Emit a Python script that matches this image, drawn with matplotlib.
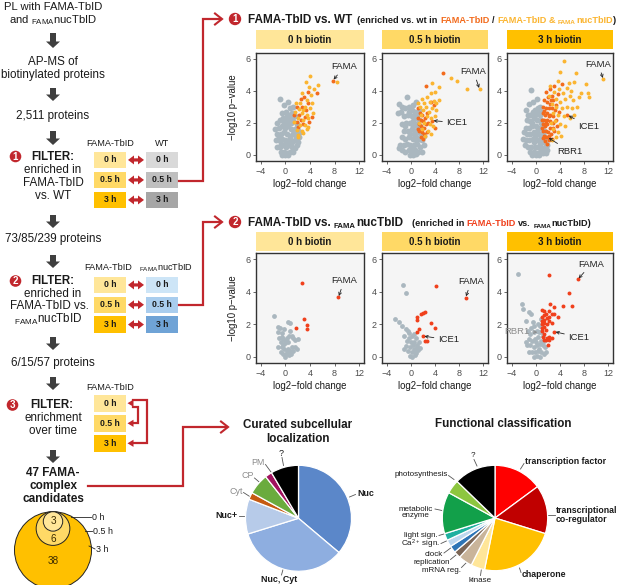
import matplotlib
matplotlib.use('Agg')
import matplotlib.pyplot as plt
from matplotlib.patches import Rectangle, Circle, Polygon, FancyArrow

plt.rcParams['font.family'] = ['Liberation Sans', 'DejaVu Sans']
plt.rcParams['mathtext.fontset'] = 'custom'
plt.rcParams['mathtext.rm'] = 'Liberation Sans'
plt.rcParams['mathtext.bf'] = 'Liberation Sans:bold'
plt.rcParams['mathtext.it'] = 'Liberation Sans:italic'

# ---------------- data ----------------
time_labels = ['0 h', '0.5 h', '3 h']
strip_labels = ['0 h biotin', '0.5 h biotin', '3 h biotin']
step_counts = ['2,511 proteins', '73/85/239 proteins', '6/15/57 proteins']
venn_labels = ['0 h', '0.5 h', '3 h']
venn_counts = [3, 6, 38]

# FAMA-TbID vs. WT, 0 h
wt_gray_0h = [(-0.9, 3.5), (-0.3, 3.1), (0.4, 3.3), (0.8, 2.9), (1.2, 3.0), (0.1, 2.7), (-0.6, 2.6), (0.6, 2.5),
              (1.1, 2.6), (1.5, 2.4), (-1.7, 1.6), (-1.3, 2.0), (-0.9, 2.2), (-0.4, 2.3), (0.2, 2.1), (0.7, 2.2),
              (1.3, 2.1), (1.8, 1.9), (-1.1, 1.7), (-0.6, 1.8), (-0.1, 1.7), (0.4, 1.8), (0.9, 1.6), (1.5, 1.6),
              (2.0, 1.5), (-1.3, 1.3), (-0.8, 1.3), (-0.3, 1.4), (0.2, 1.3), (0.7, 1.2), (1.2, 1.3), (1.7, 1.2),
              (2.2, 1.1), (-1.5, 0.9), (-1.0, 0.9), (-0.5, 1.0), (0.0, 0.9), (0.5, 0.9), (1.0, 0.8), (1.5, 0.9),
              (2.0, 0.8), (-1.4, 0.5), (-0.9, 0.5), (-0.4, 0.6), (0.1, 0.5), (0.6, 0.6), (1.1, 0.5), (1.6, 0.4),
              (-0.8, 0.2), (-0.3, 0.2), (0.2, 0.1), (0.7, 0.2), (1.2, 0.2), (0.0, 0.0), (0.4, 0.0), (-0.5, 0.0),
              (1.8, 0.6), (-1.1, 1.1), (0.3, 2.4), (0.9, 2.0), (-0.2, 2.0), (1.4, 1.4), (0.8, 1.0), (-0.7, 0.7),
              (0.3, 0.7), (1.9, 1.7), (2.3, 1.4), (1.0, 2.3)]
wt_only_0h = [(3.73, 3.90), (3.07, 3.63), (2.53, 3.47), (5.09, 3.88), (1.82, 3.01), (2.64, 3.01), (1.44, 2.49),
              (2.20, 2.49), (3.18, 2.39), (1.82, 2.07), (2.91, 1.93), (3.84, 2.07), (2.09, 1.76), (3.29, 2.80),
              (4.38, 2.39), (3.73, 3.22), (2.53, 2.18), (7.70, 4.63)]
wt_both_0h = [(4.00, 4.92), (3.29, 4.53), (5.36, 4.34), (3.84, 4.26), (4.65, 4.09), (2.64, 3.84), (1.66, 3.26),
              (2.37, 3.22), (3.46, 3.43), (4.27, 3.22), (3.18, 3.01), (4.00, 2.91), (1.55, 2.70), (2.64, 2.59),
              (3.46, 2.49), (1.99, 2.28), (2.91, 2.18), (3.73, 2.28), (2.37, 1.87), (3.18, 1.87), (1.82, 1.56),
              (2.64, 1.51), (2.09, 1.24), (2.91, 1.35), (1.44, 2.07), (3.73, 1.76), (4.54, 2.59), (4.16, 3.74),
              (2.91, 2.80), (2.20, 2.84), (3.46, 1.60), (1.99, 1.10), (8.41, 4.57)]

# FAMA-TbID vs. WT, 0.5 h
wt_gray_05h = [(-0.6, 3.6), (-1.9, 3.2), (-1.4, 3.0), (-0.9, 2.9), (-0.3, 3.0), (0.4, 3.1), (0.9, 3.3), (0.6, 2.7),
               (-0.5, 2.5), (-1.2, 2.4), (0.1, 2.4), (1.0, 2.5), (1.4, 2.2), (-0.8, 2.0), (-0.2, 2.0), (0.4, 2.1),
               (0.9, 1.9), (1.5, 1.8), (-1.5, 1.9), (-1.1, 1.5), (-0.5, 1.5), (0.1, 1.6), (0.6, 1.5), (1.1, 1.4),
               (1.7, 1.3), (-1.4, 1.1), (-0.9, 1.0), (-0.3, 1.1), (0.3, 1.0), (0.8, 1.1), (1.3, 1.0), (1.9, 0.9),
               (-1.8, 0.6), (-1.2, 0.6), (-0.7, 0.7), (-0.1, 0.6), (0.5, 0.6), (1.0, 0.7), (1.5, 0.5), (2.1, 0.6),
               (-1.5, 0.3), (-0.9, 0.2), (-0.4, 0.3), (0.2, 0.2), (0.7, 0.3), (1.2, 0.2), (-0.2, 0.0), (0.4, 0.0),
               (0.9, 0.05), (-1.9, 0.4), (0.2, 2.8), (0.7, 2.3), (1.2, 1.7), (-0.1, 1.3), (0.5, 1.3), (0.0, 0.35),
               (1.6, 1.0), (2.2, 1.2), (-0.4, 2.7), (1.3, 2.8), (-2.2, 2.6), (-1.7, 2.7), (-1.0, 1.8), (0.3, 1.8),
               (0.9, 0.9), (1.8, 0.2)]
wt_only_05h = [(5.27, 5.13), (2.45, 4.32), (3.37, 3.32), (3.53, 2.14), (4.08, 1.66), (1.2, 2.9), (1.5, 2.6),
               (1.9, 2.5), (1.2, 2.3), (1.6, 2.2), (2.0, 2.1), (2.4, 2.3), (1.3, 1.9), (1.7, 1.8), (2.1, 1.7),
               (2.5, 1.9), (1.4, 1.5), (1.8, 1.4), (2.2, 1.3), (1.6, 1.1), (2.0, 1.0), (2.7, 2.6), (2.9, 2.0),
               (1.1, 1.6), (2.6, 1.4), (3.8, 3.1)]
wt_both_05h = [(11.4, 4.09), (7.71, 4.61), (9.34, 4.11), (6.63, 4.77), (3.53, 4.46), (4.62, 4.21), (4.08, 3.94),
               (3.26, 3.88), (2.72, 3.63), (1.91, 3.47), (1.2, 3.22), (2.18, 3.22), (3.15, 3.32), (3.91, 3.38),
               (4.62, 3.43), (4.24, 3.22), (1.5, 3.0), (2.5, 3.0), (3.5, 2.9), (2.0, 2.8), (3.0, 2.7), (4.2, 2.8),
               (1.6, 2.5), (2.6, 2.4), (3.4, 2.3), (2.2, 2.0), (3.1, 1.9), (1.8, 1.6), (2.8, 1.5), (2.4, 1.2),
               (3.3, 1.3), (4.0, 2.4), (1.4, 2.0), (3.7, 1.8)]

# FAMA-TbID vs. WT, 3 h
wt_gray_3h = [(-0.8, 4.05), (-1.6, 2.8), (-1.2, 3.2), (-0.5, 3.3), (0.2, 3.5), (0.6, 3.0), (-0.2, 2.8), (-0.9, 2.5),
              (0.4, 2.6), (1.0, 2.7), (-1.5, 2.2), (-1.0, 2.1), (-0.4, 2.3), (0.2, 2.2), (0.8, 2.2), (-1.7, 1.7),
              (-1.2, 1.7), (-0.6, 1.8), (0.0, 1.8), (0.6, 1.7), (1.1, 1.8), (-1.4, 1.3), (-0.9, 1.3), (-0.3, 1.4),
              (0.3, 1.3), (0.9, 1.3), (1.3, 1.2), (-1.6, 0.9), (-1.1, 0.9), (-0.5, 1.0), (0.1, 0.9), (0.7, 0.9),
              (1.2, 0.8), (1.6, 0.7), (-1.3, 0.5), (-0.8, 0.5), (-0.2, 0.5), (0.4, 0.5), (1.0, 0.4), (1.5, 0.4),
              (-0.9, 0.2), (-0.4, 0.15), (0.2, 0.1), (0.7, 0.15), (1.2, 0.1), (0.0, 0.0), (0.5, 0.0), (-0.6, 0.0),
              (1.8, 0.3), (1.9, 0.6), (-1.9, 1.4), (-2.1, 1.0), (0.3, 2.9), (-0.1, 2.5), (0.7, 2.5), (-0.7, 2.0),
              (0.4, 1.6), (0.9, 1.1), (-0.1, 1.2), (0.6, 0.7), (-1.3, 2.5), (-0.3, 0.8), (1.3, 1.5), (1.5, 1.0),
              (-1.8, 0.6), (-0.5, 2.7), (0.9, 2.0), (1.7, 0.1)]
wt_only_3h = [(5.24, 2.49), (1.94, 1.10), (2.3, 4.1), (3.0, 4.3), (1.6, 3.9), (2.0, 3.6), (2.6, 3.7), (1.3, 3.4),
              (1.8, 3.3), (2.3, 3.2), (2.9, 3.4), (1.2, 3.0), (1.6, 2.9), (2.1, 2.9), (2.6, 2.9), (3.1, 2.8),
              (1.1, 2.6), (1.5, 2.5), (1.9, 2.6), (2.4, 2.5), (2.9, 2.4), (1.0, 2.2), (1.4, 2.2), (1.8, 2.2),
              (2.3, 2.1), (2.8, 2.0), (1.1, 1.9), (1.5, 1.8), (1.9, 1.9), (2.4, 1.7), (1.2, 1.5), (1.6, 1.5),
              (2.0, 1.4), (2.5, 1.3), (1.3, 1.2), (1.7, 1.1), (2.2, 0.9), (1.5, 0.85), (1.9, 0.7), (3.3, 2.2),
              (3.5, 1.8), (3.0, 1.5), (2.7, 1.0), (1.0, 1.7), (1.2, 1.05), (3.4, 3.1), (2.1, 2.4), (1.7, 2.0),
              (1.35, 2.75), (2.5, 3.4), (3.6, 3.8), (4.3, 4.4), (3.9, 2.7), (2.8, 1.7), (2.1, 1.2)]
wt_both_3h = [(11.18, 4.71), (4.69, 5.85), (4.03, 5.19), (6.72, 5.09), (8.37, 4.40), (8.70, 3.88), (8.81, 3.63),
              (7.55, 3.84), (6.34, 4.57), (5.51, 4.46), (5.24, 4.15), (4.42, 3.84), (3.87, 4.09), (2.4, 4.3),
              (3.0, 3.9), (3.4, 3.5), (4.0, 3.3), (4.8, 3.5), (5.6, 3.7), (6.2, 3.4), (2.6, 3.2), (3.3, 3.0),
              (4.4, 2.9), (5.2, 3.0), (6.0, 2.9), (2.8, 2.6), (3.6, 2.5), (4.6, 2.4), (5.6, 2.3), (6.4, 2.5),
              (3.1, 2.1), (4.0, 1.9), (4.9, 1.8), (2.9, 1.6), (3.7, 1.4), (3.3, 1.1), (2.6, 0.9), (6.8, 3.0),
              (7.2, 3.6), (2.2, 3.7), (3.6, 4.6), (5.9, 4.0), (2.5, 2.0), (4.2, 1.2)]

# FAMA-TbID vs. FAMAnucTbID
nuc_gray_0h = [(-1.82, 2.52), (-1.28, 1.86), (-0.90, 1.78), (-1.17, 1.51), (-0.63, 1.45), (-0.19, 1.71),
               (0.46, 2.17), (0.79, 2.07), (0.73, 1.61), (-0.63, 1.24), (-1.06, 1.16), (-0.35, 1.09), (0.19, 1.16),
               (1.01, 1.30), (1.28, 1.16), (-0.74, 0.89), (-0.08, 0.82), (0.46, 0.89), (1.55, 1.03), (2.09, 1.09),
               (-1.28, 0.62), (-0.52, 0.58), (-0.19, 0.45), (0.19, 0.37), (0.46, 0.51), (1.01, 0.58), (1.55, 0.62),
               (1.82, 0.47), (-0.74, 0.27), (-0.35, 0.20), (0.03, 0.16), (0.35, 0.27), (0.73, 0.37), (1.28, 0.33),
               (-0.08, 0.00), (0.55, 0.10), (0.90, 0.20), (-0.45, 0.70), (0.10, 1.00), (0.60, 1.25)]
nuc_red_0h = [(2.64, 4.57), (8.63, 3.66), (2.97, 2.31), (1.71, 1.78), (3.56, 1.98), (3.51, 1.71)]

nuc_gray_05h = [(-1.35, 4.41), (-0.81, 3.95), (-2.71, 2.34), (-2.00, 2.17), (-1.51, 1.92), (-0.81, 1.71),
                (-0.54, 1.57), (-1.08, 1.30), (-0.27, 1.16), (-0.65, 0.99), (0.00, 0.89), (0.28, 0.74), (0.55, 0.89),
                (0.82, 1.16), (0.55, 1.40), (-0.10, 0.58), (0.44, 0.47), (0.98, 0.58), (-0.43, 0.33), (0.12, 0.27),
                (0.66, 0.37), (1.20, 0.41), (-0.21, 0.06), (0.22, 0.00), (1.09, 0.74), (-0.81, 0.68), (-0.30, 1.45),
                (0.20, 1.30), (0.90, 0.25), (1.50, 0.55), (-1.20, 0.50), (0.70, 0.10), (1.35, 0.90)]
nuc_red_05h = [(4.24, 4.34), (9.07, 3.64), (1.63, 2.61), (2.07, 2.69), (2.34, 2.73), (0.98, 2.44), (1.09, 2.27),
               (3.26, 2.07), (4.08, 1.78), (1.36, 1.71), (1.09, 1.55), (2.01, 1.28), (2.34, 0.99), (2.72, 0.99)]

nuc_gray_3h = [(-2.90, 5.09), (-2.29, 3.27), (-2.07, 2.96), (-1.08, 2.75), (-0.81, 2.65), (-1.63, 2.23),
               (-0.53, 2.13), (-0.26, 1.92), (0.46, 1.51), (-1.3, 1.6), (-0.9, 1.4), (-0.4, 1.5), (0.1, 1.6),
               (0.7, 1.9), (0.9, 1.5), (-1.1, 1.1), (-0.6, 1.0), (-0.1, 1.1), (0.4, 1.2), (0.9, 1.0), (1.2, 1.3),
               (-1.4, 0.7), (-0.9, 0.7), (-0.4, 0.6), (0.1, 0.7), (0.6, 0.8), (1.1, 0.7), (1.5, 0.6), (-1.1, 0.3),
               (-0.6, 0.3), (-0.1, 0.3), (0.4, 0.35), (0.9, 0.3), (1.3, 0.2), (-0.3, 0.0), (0.2, 0.05), (0.7, 0.0),
               (0.3, 2.0), (0.8, 2.3), (-0.8, 1.8), (0.0, 0.9), (0.5, 0.5), (1.4, 1.0), (1.7, 0.3), (-1.7, 0.9)]
nuc_red_3h = [(6.94, 4.76), (2.22, 5.03), (5.52, 3.93), (6.06, 3.10), (4.58, 3.10), (2.33, 3.27), (1.05, 2.88),
              (1.42, 2.80), (1.75, 2.62), (0.98, 2.47), (1.36, 2.60), (2.25, 2.82), (2.62, 2.61), (1.04, 2.20),
              (1.41, 2.26), (1.80, 2.41), (2.19, 2.47), (3.08, 2.62), (0.99, 2.00), (1.36, 2.05), (1.81, 2.00),
              (2.25, 2.19), (1.03, 1.79), (1.42, 1.85), (1.75, 1.63), (2.62, 2.06), (0.98, 1.58), (1.36, 1.43),
              (1.81, 1.18), (2.19, 1.22), (1.42, 1.05), (1.75, 1.01), (2.25, 1.06), (3.04, 1.55), (2.62, 1.17),
              (3.59, 2.44), (2.00, 0.75), (1.20, 1.20), (3.00, 3.05)]

# labelled proteins: (name, x, y) of the point
wt_labels_0h = [('FAMA', 7.70, 4.63)]
wt_labels_05h = [('FAMA', 11.4, 4.09), ('ICE1', 3.53, 2.14)]
wt_labels_3h = [('FAMA', 11.18, 4.71), ('ICE1', 5.24, 2.49), ('RBR1', 1.94, 1.10)]
nuc_labels_0h = [('FAMA', 8.63, 3.66)]
nuc_labels_05h = [('FAMA', 9.07, 3.64), ('ICE1', 2.01, 1.28)]
nuc_labels_3h = [('FAMA', 6.94, 4.76), ('ICE1', 3.04, 1.55), ('RBR1', 0.46, 1.51)]

loc_labels = ['Nuc', 'Nuc, Cyt', 'Nuc+', 'Cyt', 'CP', 'PM', '?']
loc_counts = [17, 16, 5, 1, 3, 1, 4]
func_labels = ['transcription factor', 'transcriptional\nco-regulator', 'chaperone', 'kinase', 'mRNA reg.',
               'replication', 'clock', 'Ca$^{2+}$ sign.', 'light sign.', 'metabolic\nenzyme', 'photosynthesis', '?']
func_counts = [7, 7, 11, 2, 2, 1, 1, 1, 1, 6, 2, 6]

# ---------------- style / layout ----------------
W, H = 617, 585
RED = '#C1272D'
TXT = '#1A1A1A'
GRAY_PT = '#AAB7BF'
OR_DARK = '#F26B1D'
OR_LIGHT = '#FBB531'
RED_PT = '#F0401C'
TIME_COLORS = ['#FFE699', '#FFD966', '#FFC000']
WT_COLORS = ['#D9D9D9', '#BFBFBF', '#A6A6A6']
NUC_COLORS = ['#CDE5F7', '#A9CDEE', '#6FA3D6']
LOC_COLORS = ['#5B87C9', '#8EAEE0', '#B7CBE9', '#C55A11', '#6AAB3E', '#A0125E', '#000000']
FUNC_COLORS = ['#FF0000', '#C00000', '#FFC000', '#FFE699', '#C9B49A', '#7B6656', '#2E75B6', '#BDD7EE',
               '#1FB0A0', '#12A04A', '#8DC63F', '#000000']
FS = 8.4   # flow chart text size

fig = plt.figure(figsize=(W / 100, H / 100), dpi=100)
ov = fig.add_axes([0, 0, 1, 1])
ov.set_xlim(0, W)
ov.set_ylim(H, 0)
ov.axis('off')


def rect_px(x0, y0, x1, y1):
    return [x0 / W, 1 - y1 / H, (x1 - x0) / W, (y1 - y0) / H]


def txt(x, y, s, size=FS, bold=False, color=TXT, ha='center', va='center'):
    ov.text(x, y, s, fontsize=size, fontweight='bold' if bold else 'normal', color=color, ha=ha, va=va)


def num_badge(x, y, n, r=5.8):
    ov.add_patch(Circle((x, y), r, color=RED, lw=0))
    ov.text(x, y + 0.3, str(n), color='white', fontsize=7, fontweight='bold', ha='center', va='center')


def seq_text(x, y, pieces):
    rend = fig.canvas.get_renderer()
    for s, size, color, dy, gap in pieces:
        t = ov.text(x, y + dy, s, fontsize=size, fontweight='bold', color=color, ha='left', va='baseline')
        x += t.get_window_extent(rend).width + gap * size * 100 / 72


def chevron(x, y, ln=7, hw=5.5):
    ov.plot([x - ln, x, x - ln], [y - hw, y, y + hw], color=RED, lw=1.5, solid_joinstyle='miter')


def double_arrow(y, x0=128, x1=144):
    m0, m1 = x0 + 6, x1 - 6
    pts = [(x0, y), (m0, y - 4.5), (m0, y - 1.6), (m1, y - 1.6), (m1, y - 4.5), (x1, y),
           (m1, y + 4.5), (m1, y + 1.6), (m0, y + 1.6), (m0, y + 4.5)]
    ov.add_patch(Polygon(pts, closed=True, color=RED, lw=0))


def left_head(x, y):
    ov.add_patch(Polygon([(x, y), (x + 6, y - 3.6), (x + 6, y + 3.6)], closed=True, color=RED, lw=0))


# ---------------- left flow chart ----------------
CX = 53
txt(CX, 7.5, 'PL with FAMA-TbID', size=8.1)
txt(CX, 20.5, 'and ${}_{\\mathrm{FAMA}}$nucTbID', size=8.1)
txt(CX, 62, 'AP-MS of')
txt(CX, 75, 'biotinylated proteins')
txt(CX, 116, step_counts[0])
txt(CX, 239, step_counts[1])
txt(CX, 363, step_counts[2])

for y0, y1 in [(33, 48), (88, 101), (131, 145), (215, 228), (255, 268), (337, 350), (377, 390), (450, 463)]:
    ov.add_patch(FancyArrow(CX, y0, 0, y1 - y0, width=6, head_width=14, head_length=6.5,
                            length_includes_head=True, color='#3F3F3F', lw=0))

num_badge(15.5, 156.5, 1)
txt(53, 156.5, 'FILTER:', size=8.3, bold=True)
txt(CX, 170, 'enriched in')
txt(CX, 183, 'FAMA-TbID')
txt(CX, 196, 'vs. WT')

num_badge(15.5, 281, 2)
txt(53, 281, 'FILTER:', size=8.3, bold=True)
txt(CX, 294, 'enriched in')
txt(49.5, 306, 'FAMA-TbID vs.')
txt(48.5, 319, '${}_{\\mathrm{FAMA}}$nucTbID')

num_badge(12.5, 405, 3)
txt(52, 405, 'FILTER:', size=8.3, bold=True)
txt(CX, 418, 'enrichment')
txt(CX, 431.5, 'over time')

txt(CX, 472.5, '47 FAMA-', size=8.5, bold=True)
txt(CX, 486, 'complex', size=8.5, bold=True)
txt(CX, 499.5, 'candidates', size=8.5, bold=True)

# filter boxes
box_rows_1 = [151.7, 171.7, 191.7]
box_rows_2 = [276.7, 296.5, 316.3]
box_rows_3 = [395.0, 415.0, 435.0]
BH = 16.5
txt(110, 144, 'FAMA-TbID', size=6.6)
txt(162, 144, 'WT', size=6.6)
txt(108, 268, 'FAMA-TbID', size=6.6)
txt(166, 267.5, '${}_{\\mathrm{FAMA}}$nucTbID', size=6.6)
txt(110, 387, 'FAMA-TbID', size=6.6)
for i, lab in enumerate(time_labels):
    for rows, right in [(box_rows_1, WT_COLORS), (box_rows_2, NUC_COLORS), (box_rows_3, None)]:
        y = rows[i]
        ov.add_patch(Rectangle((94, y), 32, BH, color=TIME_COLORS[i], lw=0))
        txt(110, y + BH / 2, lab, size=6.2, bold=True)
        if right is not None:
            ov.add_patch(Rectangle((146, y), 32.3, BH, color=right[i], lw=0))
            txt(162, y + BH / 2, lab, size=6.2, bold=True)
            double_arrow(y + BH / 2)

# filter 3 brackets
ov.plot([133, 146.7, 146.7, 133], [400, 400, 443.3, 443.3], color=RED, lw=1.6, solid_joinstyle='miter')
ov.plot([133, 137.8, 137.8, 133], [406.5, 406.5, 423.3, 423.3], color=RED, lw=1.6, solid_joinstyle='miter')
left_head(127.5, 403.2)
left_head(127.5, 423.3)
left_head(127.5, 443.3)

# connectors
ov.plot([179, 203, 203, 221], [180.5, 180.5, 19, 19], color=RED, lw=1.6, solid_joinstyle='miter')
chevron(222, 19)
ov.plot([179, 203, 203, 221], [305, 305, 222, 222], color=RED, lw=1.6, solid_joinstyle='miter')
chevron(222, 222)
ov.plot([88, 183, 183, 227], [485.5, 485.5, 427, 427], color=RED, lw=1.6, solid_joinstyle='miter')
chevron(228, 427)

# nested candidate circles (area ~ cumulative count)
total = sum(venn_counts)
R = 38.5
top = 511.7
cum = 0
radii = []
for c in venn_counts:
    cum += c
    radii.append(R * (cum / total) ** 0.5)
for r, col in zip(radii[::-1], TIME_COLORS[::-1]):
    ov.add_patch(Circle((53, top + r), r, facecolor=col, edgecolor='#222222', lw=0.7))
count_y = [top + radii[0], top + radii[0] + radii[1] + 1, 561]
for cnt, y in zip(venn_counts, count_y):
    txt(53, y, str(cnt), size=7.2, color='#3A2A00')
for lab, (x0, y0, x1, y1) in zip(venn_labels, [(71, 517, 91, 517), (85, 530.5, 92, 530.5), (89, 546, 95, 549)]):
    ov.plot([x0, x1], [y0, y1], color='#222222', lw=0.6)
    txt(x1 + 1, y1 + 0.5, lab, size=6.4, ha='left')

# ---------------- volcano panels ----------------
PANEL_X = [(256, 364), (382, 488), (507, 613)]
ROWS = [dict(strip=(30, 49.3), axes=(52.7, 161.3)), dict(strip=(231.7, 251), axes=(253.3, 363.3))]

top_panels = [
    (wt_gray_0h, [(wt_only_0h, OR_DARK), (wt_both_0h, OR_LIGHT)], wt_labels_0h,
     {'FAMA': (9.6, 5.5, 'center')}),
    (wt_gray_05h, [(wt_only_05h, OR_DARK), (wt_both_05h, OR_LIGHT)], wt_labels_05h,
     {'FAMA': (10.4, 5.2, 'center'), 'ICE1': (5.9, 2.0, 'left')}),
    (wt_gray_3h, [(wt_only_3h, OR_DARK), (wt_both_3h, OR_LIGHT)], wt_labels_3h,
     {'FAMA': (10.4, 5.65, 'center'), 'ICE1': (7.0, 1.76, 'left'), 'RBR1': (3.6, 0.21, 'left')}),
]
bottom_panels = [
    (nuc_gray_0h, [(nuc_red_0h, RED_PT)], nuc_labels_0h, {'FAMA': (9.55, 4.68, 'center')}),
    (nuc_gray_05h, [(nuc_red_05h, RED_PT)], nuc_labels_05h,
     {'FAMA': (10.0, 4.62, 'center'), 'ICE1': (4.5, 1.04, 'left')}),
    (nuc_gray_3h, [(nuc_red_3h, RED_PT)], nuc_labels_3h,
     {'FAMA': (9.2, 5.7, 'center'), 'ICE1': (5.4, 1.2, 'left'), 'RBR1': (-1.1, 1.55, 'right')}),
]


def draw_volcano(col, row, gray, layers, labels, label_pos):
    x0, x1 = PANEL_X[col]
    sy0, sy1 = ROWS[row]['strip']
    ay0, ay1 = ROWS[row]['axes']
    ov.add_patch(Rectangle((x0, sy0), x1 - x0, sy1 - sy0, color=TIME_COLORS[col], lw=0))
    txt((x0 + x1) / 2, (sy0 + sy1) / 2 + 0.5, strip_labels[col], size=7, bold=True)
    ax = fig.add_axes(rect_px(x0, ay0, x1, ay1))
    ax.set_facecolor('#F5F5F5')
    gs = 18 if row == 0 else 12
    ax.scatter([p[0] for p in gray], [p[1] for p in gray], s=gs, c=GRAY_PT, linewidths=0, zorder=2)
    for pts, color in layers:
        ax.scatter([p[0] for p in pts], [p[1] for p in pts], s=8, c=color, linewidths=0, zorder=3)
    for name, px, py in labels:
        tx, ty, ha = label_pos[name]
        lc = '#8C8C8C' if (name == 'RBR1' and row == 1) else '#222222'
        ax.annotate(name, xy=(px, py), xytext=(tx, ty), fontsize=6.8, color=lc, ha=ha, va='center',
                    arrowprops=dict(arrowstyle='->', color=lc, lw=0.6, mutation_scale=5, shrinkA=1, shrinkB=1),
                    zorder=5)
    ax.set_xlim(-4.8, 12.8)
    ax.set_ylim(-0.4, 6.37)
    ax.set_xticks([-4, 0, 4, 8, 12])
    ax.set_yticks([0, 2, 4, 6])
    for sp in ax.spines.values():
        sp.set_linewidth(1.0)
        sp.set_color('#333333')
    ax.tick_params(length=2.5, width=0.6, color='#4D4D4D', labelcolor='#4D4D4D', labelsize=6.5, pad=1.5)
    ax.set_xlabel('log2\u2212fold change', fontsize=6.9, color=TXT)
    ax.xaxis.set_label_coords(0.5, -0.165)
    if col == 0:
        ax.set_ylabel('\u2212log10 p\u2212value', fontsize=6.9, color=TXT)
        ax.yaxis.set_label_coords(-0.165, 0.5)


for c, (g, l, lab, pos) in enumerate(top_panels):
    draw_volcano(c, 0, g, l, lab, pos)
for c, (g, l, lab, pos) in enumerate(bottom_panels):
    draw_volcano(c, 1, g, l, lab, pos)

# row titles
num_badge(235, 19, 1, r=6.2)
seq_text(247.5, 23, [('FAMA-TbID vs. WT', 8.5, TXT, 0, 0.45),
                     ('(enriched vs. wt in', 6.6, TXT, 0, 0.278),
                     ('FAMA-TbID', 6.6, OR_DARK, 0, 0.278),
                     ('/', 6.6, TXT, 0, 0.278),
                     ('FAMA-TbID', 6.6, OR_LIGHT, 0, 0.278),
                     ('&', 6.6, OR_LIGHT, 0, 0.278),
                     ('FAMA', 4.6, OR_LIGHT, 1.5, 0.04),
                     ('nucTbID', 6.6, OR_LIGHT, 0, 0.0),
                     (')', 6.6, TXT, 0, 0.0)])
num_badge(235, 222, 2, r=6.2)
seq_text(247.5, 226, [('FAMA-TbID vs.', 8.5, TXT, 0, 0.278),
                      ('FAMA', 5.6, TXT, 2.0, 0.03),
                      ('nucTbID', 8.5, TXT, 0, 0.0)])
seq_text(411.5, 226, [('(enriched in', 6.6, TXT, 0, 0.278),
                      ('FAMA-TbID', 6.6, RED_PT, 0, 0.278),
                      ('vs.', 6.6, TXT, 0, 0.278),
                      ('FAMA', 4.6, TXT, 1.5, 0.03),
                      ('nucTbID)', 6.6, TXT, 0, 0.0)])

# ---------------- pies ----------------
def draw_pie(cx, cy, r, counts, colors):
    m = 1.03
    ax = fig.add_axes(rect_px(cx - r * m, cy - r * m, cx + r * m, cy + r * m))
    ax.pie(counts, colors=colors, startangle=90, counterclock=False,
           wedgeprops=dict(edgecolor='white', linewidth=0.9))
    ax.set_xlim(-m, m)
    ax.set_ylim(-m, m)
    ax.set_aspect('equal')
    ax.axis('off')


txt(298, 425, 'Curated subcellular', size=8.4, bold=True)
txt(298, 439, 'localization', size=8.4, bold=True)
draw_pie(298.5, 518.3, 53, loc_counts, LOC_COLORS)
loc_style = {'Nuc': (True, TXT), 'Nuc, Cyt': (True, TXT), 'Nuc+': (True, TXT),
             'Cyt': (False, '#8C8C8C'), 'CP': (False, '#8C8C8C'), 'PM': (False, '#8C8C8C'), '?': (False, TXT)}
loc_pos = {'Nuc': (357, 494, 'left', (349.5, 497, 355.5, 494.5)),
           'Nuc, Cyt': (279, 579, 'center', (283, 569.5, 281.5, 575)),
           'Nuc+': (237.5, 516, 'right', (238.5, 516, 246, 516)),
           'Cyt': (243, 491, 'right', (243.5, 492.5, 250.5, 497)),
           'CP': (254, 476, 'right', (254.5, 478, 261.5, 484)),
           'PM': (265, 462.5, 'right', (265.5, 464.5, 271, 472)),
           '?': (281, 453, 'center', (282, 457.5, 283.5, 465.5))}
for lab in loc_labels:
    tx, ty, ha, (a, b, c, d) = loc_pos[lab]
    bold, color = loc_style[lab]
    ov.plot([a, c], [b, d], color='#555555', lw=0.6)
    txt(tx, ty, lab, size=6.4, bold=bold, color=color, ha=ha)

txt(503, 424, 'Functional classification', size=8.4, bold=True)
draw_pie(495, 518, 52.7, func_counts, FUNC_COLORS)
func_bold = {'transcription factor', 'transcriptional\nco-regulator', 'chaperone'}
func_pos = {'transcription factor': (525, 461, 'left', (520.5, 469, 524, 463.5)),
            'transcriptional\nco-regulator': (556, 515, 'left', (547, 515, 555, 515)),
            'chaperone': (522, 574.5, 'left', (519.5, 568, 521, 572.5)),
            'kinase': (480, 580, 'center', (481.5, 568.5, 480.5, 575.5)),
            'mRNA reg.': (461, 570.5, 'right', (461.5, 567.5, 466, 563)),
            'replication': (450, 562, 'right', (450.5, 559.5, 456, 555)),
            'clock': (443, 554.5, 'right', (444, 553, 452, 547)),
            'Ca$^{2+}$ sign.': (440, 544.5, 'right', (441, 543.5, 448.5, 540)),
            'light sign.': (438, 535.5, 'right', (439, 535.5, 445.5, 533.5)),
            'metabolic\nenzyme': (433, 512.5, 'right', (435, 509, 442, 510.5)),
            'photosynthesis': (448, 474.5, 'right', (448.5, 475.5, 454, 479.5)),
            '?': (472.5, 455.5, 'center', (474, 459.5, 477, 466))}
for lab in func_labels:
    tx, ty, ha, (a, b, c, d) = func_pos[lab]
    ov.plot([a, c], [b, d], color='#555555', lw=0.6)
    bold = lab in func_bold
    ov.text(tx, ty, lab, fontsize=6.3 if bold else 5.8, fontweight='bold' if bold else 'normal',
            color=TXT, ha=ha, va='center', multialignment='left' if bold else 'center', linespacing=0.95)

fig.savefig('out.png', dpi=100)
